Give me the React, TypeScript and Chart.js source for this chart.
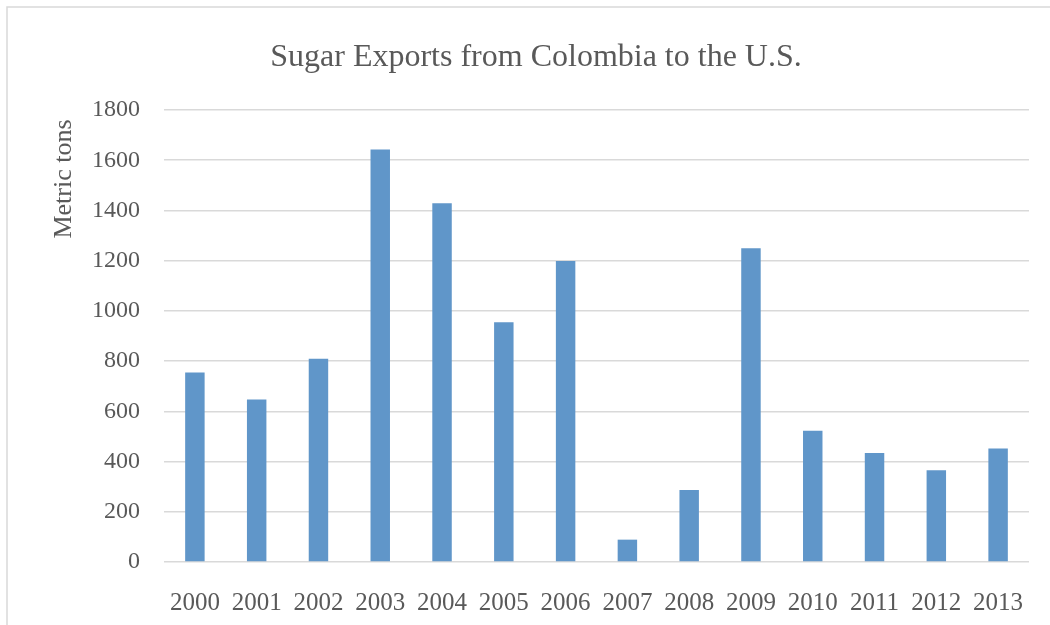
import React, { useEffect, useRef } from "react";
import { Chart, registerables } from "chart.js";

Chart.register(...registerables);

const years = ["2000","2001","2002","2003","2004","2005","2006","2007","2008","2009","2010","2011","2012","2013"];
const exportsTons = [755, 647, 809, 1643, 1429, 955, 1199, 89, 287, 1249, 523, 434, 365, 452];
const chartTitle = "Sugar Exports from Colombia to the U.S.";
const yAxisTitle = "Metric tons";

const SERIF = "'Liberation Serif', 'Times New Roman', serif";
const TEXT = "#595959";

const decorPlugin = {
  id: "decor",
  beforeDraw(chart: any) {
    const ctx = chart.ctx;
    ctx.save();
    ctx.strokeStyle = "#d9d9d9";
    ctx.lineWidth = 1.5;
    ctx.beginPath();
    ctx.moveTo(7, chart.height + 5);
    ctx.lineTo(7, 7);
    ctx.lineTo(chart.width + 5, 7);
    ctx.stroke();
    ctx.restore();
  },
  afterDraw(chart: any) {
    const ctx = chart.ctx;
    ctx.save();
    ctx.fillStyle = TEXT;
    ctx.font = `32px ${SERIF}`;
    ctx.textAlign = "center";
    ctx.textBaseline = "middle";
    ctx.fillText(chartTitle, 536, 58);
    ctx.translate(64, 179);
    ctx.rotate(-Math.PI / 2);
    ctx.font = `26px ${SERIF}`;
    ctx.fillText(yAxisTitle, 0, 0);
    ctx.restore();
  },
};

export default function App() {
  const ref = useRef<HTMLCanvasElement | null>(null);
  useEffect(() => {
    if (!ref.current) return;
    const chart = new Chart(ref.current, {
      type: "bar",
      data: {
        labels: years,
        datasets: [
          {
            label: yAxisTitle,
            data: exportsTons,
            backgroundColor: "#6096c9",
            barPercentage: 0.315,
            categoryPercentage: 1,
          },
        ],
      },
      options: {
        animation: false,
        responsive: false,
        layout: { padding: { top: 110, left: 0, right: 21, bottom: 0 } },
        plugins: { legend: { display: false }, title: { display: false }, tooltip: { enabled: false } },
        scales: {
          x: {
            grid: { display: false },
            border: { display: false },
            ticks: { font: { family: SERIF, size: 25 }, color: TEXT, padding: 18, maxRotation: 0, autoSkip: false },
            afterFit: (s: any) => { s.height = 63; },
          },
          y: {
            min: 0,
            max: 1800,
            grid: { color: "#d9d9d9", lineWidth: 1.5, drawTicks: false },
            border: { display: false },
            ticks: {
              stepSize: 200,
              font: { family: SERIF, size: 24 },
              color: TEXT,
              padding: 24,
              callback: (v: any) => String(v),
            },
            afterFit: (s: any) => { s.width = 164; },
          },
        },
      },
      plugins: [decorPlugin],
    });
    return () => chart.destroy();
  }, []);
  return (
    <div style={{ position: "absolute", left: 0, top: 0, width: 1050, height: 625, background: "#fff" }}>
      <canvas ref={ref} width={1050} height={625} />
    </div>
  );
}
